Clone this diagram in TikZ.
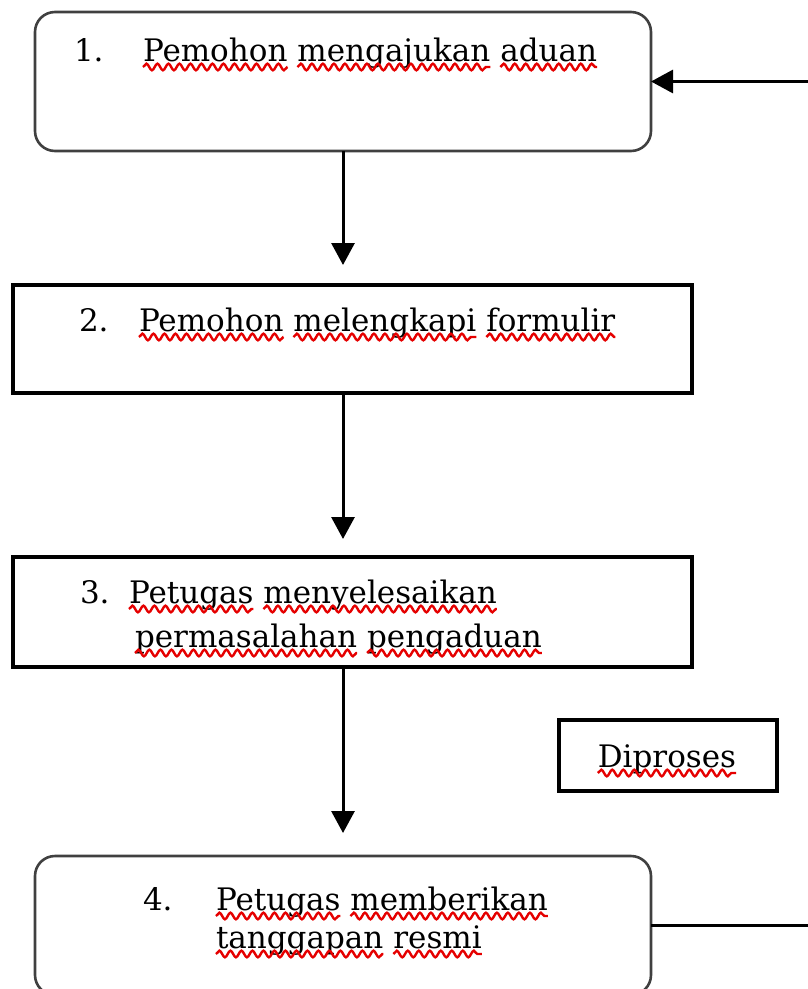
\documentclass[tikz,border=0pt]{standalone}
\usepackage{fontspec}
\setmainfont{DejaVu Serif}
\usetikzlibrary{arrows.meta,positioning}
\usetikzlibrary{decorations.pathmorphing}
\tikzset{>={Triangle[width=23pt,length=22pt]}}
\colorlet{mysquig}{red!90!black}
\tikzstyle{round box}=[draw=black!75,line width=2.6pt,rounded corners=20pt,inner sep=0,outer sep=0,anchor=north west]
\tikzstyle{plain box}=[draw,line width=3.2pt,inner sep=0,outer sep=0,anchor=north west]
\tikzstyle{txt}=[anchor=base west,inner sep=0,outer sep=0,font=\fontsize{31}{37}\selectfont]
\tikzstyle{squig}=[draw=mysquig,line width=2.4pt,decorate,decoration={snake,amplitude=3.3pt,segment length=11pt}]
\tikzstyle{wd}=[txt,append after command={([yshift=-6pt]\tikzlastnode.base west) edge[squig] ([yshift=-6pt]\tikzlastnode.base east)}]
\tikzstyle{link}=[line width=3pt]

\begin{document}
\begin{tikzpicture}[x=1pt,y=-1pt,node distance=10pt]
  \useasboundingbox (0,0) rectangle (808,989);
  \coordinate (edge) at (808,0);

  % BOXES
  \node[round box,minimum width=616,minimum height=139] (b1) at (35,12) {};
  \node[plain box,minimum width=679,minimum height=108] (b2) at (13,285) {};
  \node[plain box,minimum width=679,minimum height=110] (b3) at (13,557) {};
  \node[plain box,minimum width=218,minimum height=71] (b5) at (559,720) {};
  \node[round box,minimum width=616,minimum height=139] (b4) at (35,856) {};

  % TEXTS
  \node[txt] (n1) at (74,61) {1.};
  \node[wd] (w11) at (143,61) {Pemohon};
  \node[wd,base right=of w11] (w12) {mengajukan};
  \node[wd,base right=of w12] (w13) {aduan};

  \node[txt] (n2) at (79,331) {2.};
  \node[wd] (w21) at (139,331) {Pemohon};
  \node[wd,base right=of w21] (w22) {melengkapi};
  \node[wd,base right=of w22] (w23) {formulir};

  \node[txt] (n3) at (80,603) {3.};
  \node[wd] (w31) at (129,603) {Petugas};
  \node[wd,base right=of w31] (w32) {menyelesaikan};
  \node[wd] (w33) at (135,647) {permasalahan};
  \node[wd,base right=of w33] (w34) {pengaduan};

  \node[wd,anchor=base] (w51) at (667,767) {Diproses};

  \node[txt] (n4) at (143,910) {4.};
  \node[wd] (w41) at (216,910) {Petugas};
  \node[wd,base right=of w41] (w42) {memberikan};
  \node[wd] (w43) at (216,948) {tanggapan};
  \node[wd,base right=of w43] (w44) {resmi};

  % ARROWS
  \draw[link,->,shorten >=20pt] (b1.south) -- (b1.south |- b2.north);
  \draw[link,->,shorten >=18pt] (b2.south -| b1.south) -- (b3.north -| b1.south);
  \draw[link,->,shorten >=23pt] (b3.south -| b1.south) -- (b4.north);
  \draw[link,->] (b1.east -| edge) -- (b1.east);
  \draw[link] (b4.east) -- (b4.east -| edge);
\end{tikzpicture}
\end{document}
